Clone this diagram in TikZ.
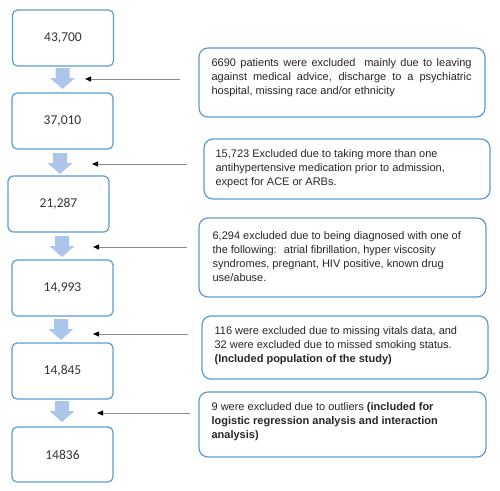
\documentclass[tikz,border=0pt]{standalone}
\usepackage{fontspec}
\setmainfont{Liberation Sans}
\newfontfamily\numfont{Carlito}
\usetikzlibrary{arrows.meta}
\definecolor{boxblue}{RGB}{91,155,213}
\definecolor{flowblue}{RGB}{172,197,234}
\tikzstyle{countbox}=[draw=boxblue,line width=1.2pt,rounded corners=5pt,minimum width=101pt,minimum height=56pt,text=black!80,font=\numfont\fontsize{13.5}{16}\selectfont]
\tikzstyle{notebox}=[draw=boxblue,line width=1.2pt,rounded corners=9pt,minimum width=286pt]
\tikzstyle{notetext}=[anchor=north west,inner sep=0pt,align=left,text=black!85,font=\fontsize{11}{14}\selectfont]
\tikzstyle{excl}=[draw=black!45,line width=.8pt,-{Triangle[length=6pt,width=5pt,color=black]}]
\newcommand\flowdown[2]{\fill[flowblue] (#1-7,#2) -- ++(14,0) -- ++(0,10) -- ++(5.5,0) -- ++(-12.5,11) -- ++(-12.5,-11) -- ++(5.5,0) -- cycle;}

\begin{document}
\begin{tikzpicture}[x=1pt,y=-1pt]
	\useasboundingbox (0,0) rectangle (500,490);
	% counts
	\node[countbox] (n1) at (63,38)     {43,700};
	\node[countbox] (n2) at (62.5,121)  {37,010};
	\node[countbox] (n3) at (58.5,204)  {21,287};
	\node[countbox] (n4) at (62.5,288)  {14,993};
	\node[countbox] (n5) at (62.5,371)  {14,845};
	\node[countbox,minimum height=55pt] (n6) at (62.5,454.5) {14836};
	\flowdown{62.5}{68}
	\flowdown{60}{153}
	\flowdown{62}{236}
	\flowdown{61}{319}
	\flowdown{62}{401}
	% exclusions
	\node[notebox,minimum height=69pt] (r1) at (342,82.5) {};
	\node[notebox,minimum height=60pt] (r2) at (347,169) {};
	\node[notebox,minimum height=79pt,minimum width=287pt] (r3) at (342.5,257.5) {};
	\node[notebox,minimum height=63pt] (r4) at (345,347.5) {};
	\node[notebox,minimum height=65pt,minimum width=287pt] (r5) at (342.5,424.5) {};
	\node[notetext] (t1) at ([shift={(13,10.5)}]r1.north west)
	  {\makebox[260pt][s]{6690 patients were excluded \ mainly due to leaving}\\
	   \makebox[260pt][s]{against medical advice, discharge to a psychiatric}\\
	   hospital, missing race and/or ethnicity};
	\node[notetext] (t2) at ([shift={(12,10.5)}]r2.north west)
	  {15,723 Excluded due to taking more than one\\
	   antihypertensive medication prior to admission,\\
	   expect for ACE or ARBs.};
	\node[notetext] (t3) at ([shift={(14,13.5)}]r3.north west)
	  {6,294 excluded due to being diagnosed with one of\\
	   the following: \ atrial fibrillation, hyper viscosity\\
	   syndromes, pregnant, HIV positive, known drug\\
	   use/abuse.};
	\node[notetext] (t4) at ([shift={(13,10.5)}]r4.north west)
	  {116 were excluded due to missing vitals data, and\\
	   32 were excluded due to missed smoking status.\\
	   \textbf{(Included population of the study)}};
	\node[notetext] (t5) at ([shift={(13,10.5)}]r5.north west)
	  {9 were excluded due to outliers \textbf{(included for}\\
	   \textbf{logistic regression analysis and interaction}\\
	   \textbf{analysis)}};
	\coordinate (e1a) at (180,79);  \coordinate (e1b) at (85,79);
	\coordinate (e2a) at (187,164); \coordinate (e2b) at (92,164);
	\coordinate (e3a) at (187,247); \coordinate (e3b) at (93,247);
	\coordinate (e4a) at (188,334); \coordinate (e4b) at (93,334);
	\coordinate (e5a) at (190,413); \coordinate (e5b) at (97,413);
	\draw[excl] (e1a) -- (e1b);
	\draw[excl] (e2a) -- (e2b);
	\draw[excl] (e3a) -- (e3b);
	\draw[excl] (e4a) -- (e4b);
	\draw[excl] (e5a) -- (e5b);
\end{tikzpicture}
\end{document}
